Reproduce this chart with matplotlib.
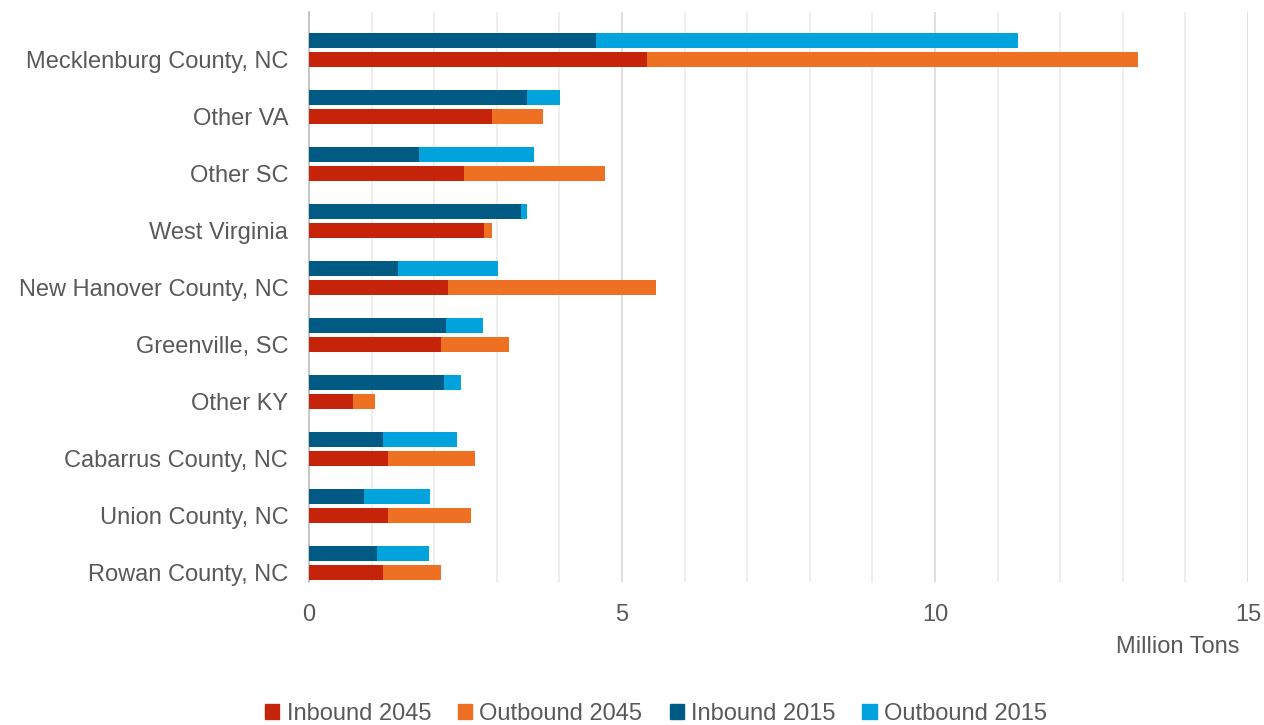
import numpy as np
import matplotlib.pyplot as plt
from matplotlib.patches import Patch

plt.rcParams['font.family'] = ['Liberation Sans', 'DejaVu Sans']

# Data (million tons)
regions = ['Mecklenburg County, NC', 'Other VA', 'Other SC', 'West Virginia',
           'New Hanover County, NC', 'Greenville, SC', 'Other KY',
           'Cabarrus County, NC', 'Union County, NC', 'Rowan County, NC']
inbound_2015 = [4.58, 3.48, 1.76, 3.39, 1.42, 2.19, 2.16, 1.18, 0.88, 1.09]
outbound_2015 = [6.75, 0.53, 1.83, 0.09, 1.60, 0.59, 0.27, 1.18, 1.05, 0.83]
inbound_2045 = [5.40, 2.92, 2.48, 2.80, 2.22, 2.11, 0.70, 1.26, 1.26, 1.18]
outbound_2045 = [7.84, 0.82, 2.25, 0.12, 3.32, 1.08, 0.35, 1.39, 1.33, 0.93]

c_in45 = '#C5240B'
c_out45 = '#EE7023'
c_in15 = '#005A84'
c_out15 = '#00A3DC'
text_col = '#595959'

W, H = 1264, 725
fig = plt.figure(figsize=(W / 100, H / 100), dpi=100)
ax = fig.add_axes([309 / W, 1 - 582 / H, (1248 - 309) / W, 570 / H])

y = np.arange(len(regions))
h = 0.265
off = 0.333

ax.barh(y, inbound_2045, height=h, color=c_in45, zorder=3)
ax.barh(y, outbound_2045, left=inbound_2045, height=h, color=c_out45, zorder=3)
ax.barh(y - off, inbound_2015, height=h, color=c_in15, zorder=3)
ax.barh(y - off, outbound_2015, left=inbound_2015, height=h, color=c_out15, zorder=3)

ax.set_xlim(0, 15)
ax.set_ylim(len(regions) - 1 + 0.16, -0.84)

ax.set_xticks([0, 5, 10, 15])
ax.set_xticks(np.arange(0, 16, 1), minor=True)
ax.grid(True, axis='x', which='major', color='#d9d9d9', linewidth=1.2, zorder=0)
ax.grid(True, axis='x', which='minor', color='#ebebeb', linewidth=1.2, zorder=0)

ax.set_yticks(y)
ax.set_yticklabels(regions)
ax.tick_params(axis='y', length=0, pad=15, labelsize=17, labelcolor=text_col)
ax.tick_params(axis='x', which='both', length=0, pad=16, labelsize=17, labelcolor=text_col)

for s in ['top', 'right', 'bottom']:
    ax.spines[s].set_visible(False)
ax.spines['left'].set_color('#bfbfbf')
ax.spines['left'].set_linewidth(1.2)

fig.text(1240 / W, 1 - 647 / H, 'Million Tons', ha='right', va='center',
         fontsize=17, color=text_col)

handles = [Patch(color=c_in45, label='Inbound 2045'),
           Patch(color=c_out45, label='Outbound 2045'),
           Patch(color=c_in15, label='Inbound 2015'),
           Patch(color=c_out15, label='Outbound 2015')]
leg = fig.legend(handles=handles, loc='center', bbox_to_anchor=(656 / W, 1 - 714 / H),
                 ncol=4, frameon=False, fontsize=17, handlelength=0.6, handleheight=0.6,
                 handletextpad=0.3, columnspacing=1.15)
for t in leg.get_texts():
    t.set_color(text_col)

fig.savefig('out.png', dpi=100)
